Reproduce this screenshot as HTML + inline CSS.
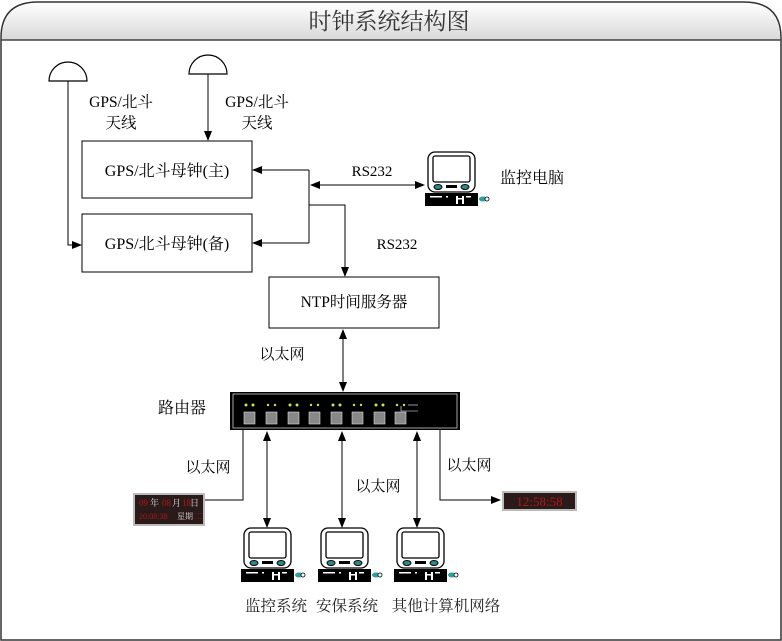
<!DOCTYPE html>
<html><head><meta charset="utf-8"><style>
html,body{margin:0;padding:0;background:#fff}
svg{display:block}
text{font-family:"Liberation Serif","Noto Serif CJK SC","Noto Sans CJK SC",serif;fill:#000}
</style></head><body>
<svg width="782" height="641" viewBox="0 0 782 641" xmlns="http://www.w3.org/2000/svg">
<defs>
<linearGradient id="hg" x1="0" y1="0" x2="0" y2="1">
<stop offset="0" stop-color="#ffffff"/><stop offset="1" stop-color="#d8d8d8"/>
</linearGradient>
<marker id="ah" markerWidth="10" markerHeight="8" refX="9" refY="4" orient="auto" markerUnits="userSpaceOnUse">
<path d="M0,0 L10,4 L0,8 z" fill="#000"/></marker>
<marker id="as" markerWidth="10" markerHeight="8" refX="1" refY="4" orient="auto" markerUnits="userSpaceOnUse">
<path d="M10,0 L0,4 L10,8 z" fill="#000"/></marker>
<g id="pc">
<rect x="0" y="0" width="47" height="40" rx="7" fill="#fff" stroke="#000" stroke-width="1.3"/>
<rect x="5" y="4" width="37" height="26" rx="2" fill="#fff" stroke="#000" stroke-width="1.3"/>
<ellipse cx="10" cy="35" rx="4" ry="2.5" fill="#2a8a8a" stroke="#000"/>
<ellipse cx="37" cy="35" rx="4" ry="2.5" fill="#2a8a8a" stroke="#000"/>
<rect x="18" y="33" width="11" height="3" fill="#000"/>
<rect x="-3" y="41" width="53" height="13" fill="#000"/>
<rect x="2" y="44" width="12" height="1.5" fill="#fff"/>
<rect x="18" y="44" width="2" height="1.5" fill="#fff"/>
<rect x="28" y="44" width="2" height="8" fill="#fff"/>
<rect x="34" y="44" width="2" height="8" fill="#fff"/>
<rect x="28" y="46" width="8" height="1.5" fill="#fff"/>
<rect x="38" y="44" width="5" height="1.5" fill="#fff"/>
<ellipse cx="55" cy="47" rx="4" ry="2.5" fill="#2aa0a0"/>
<ellipse cx="59" cy="47" rx="2" ry="2" fill="#fff" stroke="#000" stroke-width="0.8"/>
</g>
</defs>

<path d="M1,640 L1,38 Q1,2 38,2 L744,2 Q781,2 781,38 L781,640 Z" fill="#fff" stroke="#333" stroke-width="1.5"/>
<path d="M2,40 L2,38 Q2,3 38,3 L744,3 Q780,3 780,38 L780,40 Z" fill="url(#hg)"/>
<line x1="1" y1="40" x2="781" y2="40" stroke="#444" stroke-width="1.5"/>
<text x="389" y="29" font-size="23" text-anchor="middle" style="fill:#333">时钟系统结构图</text>

<path d="M49,81 A19,19 0 0 1 87,81 Z" fill="#fff" stroke="#000" stroke-width="1.2"/>
<path d="M189,74 A19,19 0 0 1 227,74 Z" fill="#fff" stroke="#000" stroke-width="1.2"/>
<polyline points="68,81 68,245 81,245" fill="none" stroke="#000" marker-end="url(#ah)"/>
<line x1="208" y1="74" x2="208" y2="140" stroke="#000" marker-end="url(#ah)"/>
<text x="121" y="107" font-size="15.5" text-anchor="middle">GPS/北斗</text>
<text x="121" y="128" font-size="15.5" text-anchor="middle">天线</text>
<text x="257" y="107" font-size="15.5" text-anchor="middle">GPS/北斗</text>
<text x="257" y="128" font-size="15.5" text-anchor="middle">天线</text>

<rect x="82" y="141" width="170" height="57" fill="#fff" stroke="#000"/>
<text x="167" y="176" font-size="16" text-anchor="middle">GPS/北斗母钟(主)</text>
<rect x="82" y="214" width="170" height="58" fill="#fff" stroke="#000"/>
<text x="167" y="249" font-size="16" text-anchor="middle">GPS/北斗母钟(备)</text>

<polyline points="309,170 309,243" fill="none" stroke="#000"/>
<line x1="309" y1="170" x2="253" y2="170" stroke="#000" marker-end="url(#ah)"/>
<line x1="309" y1="243" x2="253" y2="243" stroke="#000" marker-end="url(#ah)"/>
<line x1="311" y1="185" x2="424" y2="185" stroke="#000" marker-start="url(#as)" marker-end="url(#ah)"/>
<polyline points="309,205 345,205 345,276" fill="none" stroke="#000" marker-end="url(#ah)"/>
<text x="372" y="176" font-size="15" text-anchor="middle">RS232</text>
<text x="397" y="249" font-size="15" text-anchor="middle">RS232</text>

<use href="#pc" x="428" y="152"/>
<text x="500" y="183" font-size="16">监控电脑</text>

<rect x="269" y="277" width="170" height="51" fill="#fff" stroke="#000"/>
<text x="354" y="307" font-size="15.5" text-anchor="middle">NTP时间服务器</text>

<line x1="343" y1="330" x2="343" y2="391" stroke="#000" marker-start="url(#as)" marker-end="url(#ah)"/>
<text x="282" y="359" font-size="15" text-anchor="middle">以太网</text>

<text x="182" y="413" font-size="16" text-anchor="middle">路由器</text>
<rect x="230" y="392" width="230" height="38" fill="#000"/>
<rect x="233" y="394" width="224" height="34" fill="none" stroke="#ccc" stroke-width="0.8"/>
<g fill="#888" stroke="#ddd" stroke-width="0.6">
<rect x="244" y="412" width="11" height="12"/><rect x="266" y="412" width="11" height="12"/>
<rect x="288" y="412" width="11" height="12"/><rect x="309" y="412" width="11" height="12"/>
<rect x="331" y="412" width="11" height="12"/><rect x="352" y="412" width="11" height="12"/>
<rect x="374" y="412" width="11" height="12"/><rect x="395" y="412" width="11" height="12"/>
</g>
<g fill="#cde34a">
<circle cx="246" cy="405" r="1.5"/><circle cx="253" cy="405" r="1.5"/>
<circle cx="268" cy="405" r="1.2"/><circle cx="275" cy="405" r="1.2"/>
<circle cx="290" cy="405" r="1.5"/><circle cx="297" cy="405" r="1.5"/>
<circle cx="311" cy="405" r="1.2"/><circle cx="318" cy="405" r="1.2"/>
<circle cx="333" cy="405" r="1.5"/><circle cx="340" cy="405" r="1.5"/>
<circle cx="354" cy="405" r="1.2"/><circle cx="361" cy="405" r="1.2"/>
<circle cx="376" cy="405" r="1.5"/><circle cx="383" cy="405" r="1.5"/>
<circle cx="397" cy="405" r="1.2"/><circle cx="404" cy="405" r="1.2"/>
</g>
<polyline points="401,406 401,411 418,411" fill="none" stroke="#fff" stroke-width="0.6"/>
<line x1="408" y1="405" x2="418" y2="405" stroke="#fff" stroke-width="0.6"/>

<polyline points="243,430 243,500 176,500" fill="none" stroke="#000" marker-end="url(#ah)"/>
<line x1="267" y1="432" x2="267" y2="527" stroke="#000" marker-start="url(#as)" marker-end="url(#ah)"/>
<line x1="342" y1="432" x2="342" y2="527" stroke="#000" marker-start="url(#as)" marker-end="url(#ah)"/>
<line x1="417" y1="432" x2="417" y2="527" stroke="#000" marker-start="url(#as)" marker-end="url(#ah)"/>
<polyline points="440,430 440,500 500,500" fill="none" stroke="#000" marker-end="url(#ah)"/>
<text x="208" y="472" font-size="15" text-anchor="middle">以太网</text>
<text x="378" y="491" font-size="15" text-anchor="middle">以太网</text>
<text x="469" y="470" font-size="15" text-anchor="middle">以太网</text>

<rect x="133" y="493" width="72" height="33" fill="#bbb"/>
<rect x="135" y="495" width="68" height="29" fill="#2a1a1a"/>
<text x="139" y="506" font-size="9" style="fill:#b01818">09</text>
<text x="150" y="506" font-size="9" style="fill:#ddd">年</text>
<text x="162" y="506" font-size="9" style="fill:#b01818">08</text>
<text x="172" y="506" font-size="9" style="fill:#ddd">月</text>
<text x="182" y="506" font-size="9" style="fill:#b01818">18</text>
<text x="190" y="506" font-size="9" style="fill:#ddd">日</text>
<text x="139" y="519" font-size="8" style="fill:#b01818">20:08:38</text>
<text x="177" y="519" font-size="8" style="fill:#ddd">星期</text>
<text x="195" y="519" font-size="8" style="fill:#b01818">二</text>
<rect x="502" y="491" width="75" height="20" fill="#bbb"/>
<rect x="504" y="493" width="71" height="16" fill="#2a1a1a"/>
<text x="539.5" y="506" font-size="13" text-anchor="middle" style="fill:#b01818">12:58:58</text>

<use href="#pc" x="244" y="528"/>
<use href="#pc" x="321" y="528"/>
<use href="#pc" x="397" y="528"/>

<text x="276" y="611" font-size="15.5" text-anchor="middle" style="fill:#222">监控系统</text>
<text x="347" y="611" font-size="15.5" text-anchor="middle" style="fill:#222">安保系统</text>
<text x="446" y="611" font-size="15.5" text-anchor="middle" style="fill:#222">其他计算机网络</text>
</svg>
</body></html>
